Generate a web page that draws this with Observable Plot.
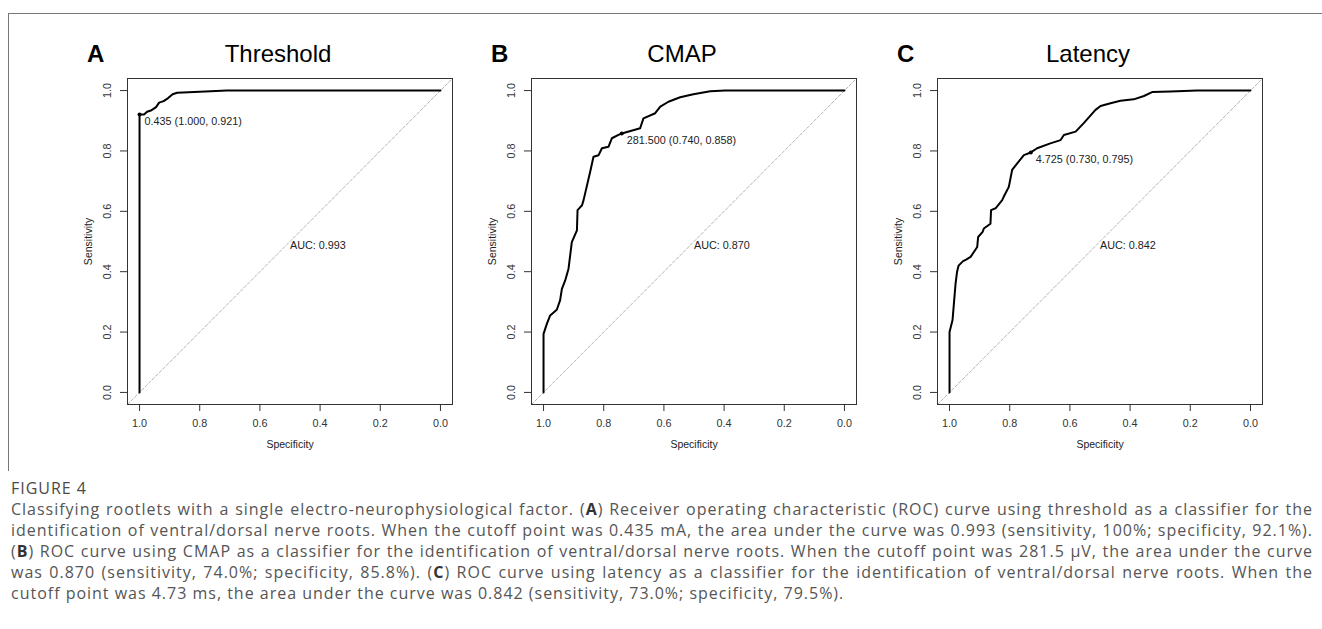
<!DOCTYPE html>
<html>
<head>
<meta charset="utf-8">
<script src="https://cdn.jsdelivr.net/npm/d3@7"></script>
<script src="https://cdn.jsdelivr.net/npm/@observablehq/plot@0.6"></script>
<style>
  html, body { margin: 0; padding: 0; background: #fff; }
  body { width: 1322px; height: 629px; overflow: hidden; position: relative; font-family: "Liberation Sans", Arial, sans-serif; }
  #box { position: absolute; left: 8px; top: 13px; width: 1320px; height: 457px; border-top: 1.5px solid #777; border-left: 1.5px solid #777; }
  .panel { position: absolute; top: 0; }
  #caption { position: absolute; left: 11px; top: 478px; width: 1302px; font-family: "Open Sans", "Noto Sans", sans-serif; font-size: 16px; color: #555; line-height: 21px; }
  #caption .fig { color: #4a4a4a; }
  #caption .j { text-align: justify; text-align-last: justify; white-space: nowrap; }
  #caption b { font-weight: 700; color: #333; }
  #probe { position: absolute; left: 0; top: -200px; white-space: nowrap; font-family: "Open Sans", "Noto Sans", sans-serif; font-size: 16px; visibility: hidden; }
</style>
</head>
<body>
<div id="box"></div>
<div id="panels"></div>
<div id="caption">
  <div class="fig">FIGURE 4</div>
  <div class="j" id="line1">Classifying rootlets with a single electro-neurophysiological factor. (<b>A</b>) Receiver operating characteristic (ROC) curve using threshold as a classifier for the</div>
  <div class="j">identification of ventral/dorsal nerve roots. When the cutoff point was 0.435 mA, the area under the curve was 0.993 (sensitivity, 100%; specificity, 92.1%).</div>
  <div class="j">(<b>B</b>) ROC curve using CMAP as a classifier for the identification of ventral/dorsal nerve roots. When the cutoff point was 281.5 μV, the area under the curve</div>
  <div class="j">was 0.870 (sensitivity, 74.0%; specificity, 85.8%). (<b>C</b>) ROC curve using latency as a classifier for the identification of ventral/dorsal nerve roots. When the</div>
  <div>cutoff point was 4.73 ms, the area under the curve was 0.842 (sensitivity, 73.0%; specificity, 79.5%).</div>
</div>
<span id="probe"></span>
<script>
// ---- Data: [specificity, sensitivity] pairs ----
const thresholdCurve = [
  [1, 0], [1, 0.921], [0.985, 0.921], [0.975, 0.93], [0.96, 0.935], [0.945, 0.945],
  [0.935, 0.96], [0.92, 0.965], [0.905, 0.975], [0.89, 0.988], [0.875, 0.993],
  [0.80, 0.996], [0.71, 1.0], [0, 1.0]
];
const cmapCurve = [
  [1, 0], [1, 0.194], [0.989, 0.227], [0.978, 0.255], [0.956, 0.274], [0.945, 0.305],
  [0.939, 0.343], [0.928, 0.371], [0.917, 0.41], [0.906, 0.498], [0.889, 0.537],
  [0.887, 0.604], [0.872, 0.62], [0.867, 0.637], [0.845, 0.731], [0.834, 0.781],
  [0.817, 0.786], [0.806, 0.809], [0.784, 0.814], [0.773, 0.842], [0.751, 0.853],
  [0.74, 0.858], [0.679, 0.875], [0.668, 0.908], [0.629, 0.925], [0.612, 0.947],
  [0.585, 0.963], [0.546, 0.978], [0.502, 0.988], [0.446, 0.998], [0.396, 1.0], [0, 1.0]
];
const latencyCurve = [
  [1, 0], [1, 0.2], [0.99, 0.24], [0.985, 0.3], [0.98, 0.36], [0.975, 0.4], [0.97, 0.42],
  [0.955, 0.435], [0.945, 0.44], [0.93, 0.449], [0.908, 0.482], [0.905, 0.515],
  [0.89, 0.532], [0.886, 0.543], [0.864, 0.559], [0.862, 0.604], [0.847, 0.61],
  [0.825, 0.637], [0.82, 0.648], [0.803, 0.681], [0.792, 0.737], [0.775, 0.759],
  [0.753, 0.786], [0.73, 0.795], [0.709, 0.809], [0.665, 0.825], [0.631, 0.836],
  [0.62, 0.853], [0.581, 0.864], [0.554, 0.892], [0.515, 0.936], [0.498, 0.949],
  [0.465, 0.958], [0.432, 0.966], [0.388, 0.971], [0.354, 0.982], [0.327, 0.995],
  [0.266, 0.997], [0.177, 1.0], [0, 1.0]
];
const panelTitles = ["Threshold", "CMAP", "Latency"];
const panelLetters = ["A", "B", "C"];
const thresholdPoints = [[1.000, 0.921], [0.740, 0.858], [0.730, 0.795]];
const thresholdLabels = ["0.435 (1.000, 0.921)", "281.500 (0.740, 0.858)", "4.725 (0.730, 0.795)"];
const aucLabels = ["AUC: 0.993", "AUC: 0.870", "AUC: 0.842"];
const aucPosition = [0.5, 0.5];
const chanceLine = [[1.04, -0.04], [-0.04, 1.04]];
const xTicks = [1.0, 0.8, 0.6, 0.4, 0.2, 0.0];
const yTicks = [0.0, 0.2, 0.4, 0.6, 0.8, 1.0];
const xLabel = "Specificity";
const yLabel = "Sensitivity";

const curves = [thresholdCurve, cmapCurve, latencyCurve];
const panelLefts = [56.5, 461, 866.5];
const fmt = d3.format(".1f");
const FONT = "Liberation Sans, Arial, sans-serif";

curves.forEach((curve, i) => {
  const svg = Plot.plot({
    width: 405,
    height: 464,
    marginLeft: 70,
    marginRight: 10,
    marginTop: 78,
    marginBottom: 60,
    x: { domain: [1.04, -0.04] },
    y: { domain: [-0.04, 1.04] },
    style: { fontFamily: FONT, background: "transparent", overflow: "visible", color: "#333" },
    marks: [
      Plot.line(chanceLine, { x: d => d[0], y: d => d[1], stroke: "#b5b5b5", strokeWidth: 1, strokeDasharray: "3,2" }),
      Plot.line(curve, { x: d => d[0], y: d => d[1], stroke: "#000", strokeWidth: 2, strokeLinejoin: "round" }),
      Plot.dot([thresholdPoints[i]], { x: d => d[0], y: d => d[1], r: 2, fill: "#000" }),
      Plot.text([thresholdPoints[i]], { x: d => d[0], y: d => d[1], text: () => thresholdLabels[i], textAnchor: "start", lineAnchor: "middle", dx: 5, dy: 7, fontSize: 10.8, fill: "#222" }),
      Plot.text([aucPosition], { x: d => d[0], y: d => d[1], text: () => aucLabels[i], textAnchor: "start", lineAnchor: "top", fontSize: 10.8, fill: "#222" }),
      Plot.frame({ stroke: "#333", strokeWidth: 1 }),
      Plot.axisX({ ticks: xTicks, tickSize: 7, tickPadding: 8, tickFormat: fmt, fontSize: 10.8, label: null, color: "#333" }),
      Plot.axisY({ ticks: yTicks, tickSize: 7, tickFormat: () => "", label: null, color: "#333" }),
      Plot.text(yTicks, { y: d => d, frameAnchor: "left", text: d => fmt(d), rotate: -90, dx: -20, fontSize: 10.8, fill: "#333", textAnchor: "middle", lineAnchor: "middle" }),
      Plot.text([xLabel], { frameAnchor: "bottom", dy: 40, fontSize: 10.5, fill: "#222", lineAnchor: "middle" }),
      Plot.text([yLabel], { frameAnchor: "left", rotate: -90, dx: -38.5, fontSize: 10.5, fill: "#222", textAnchor: "middle", lineAnchor: "middle" }),
      Plot.text([panelTitles[i]], { frameAnchor: "top", dx: -12, dy: -23.7, fontSize: 24, fill: "#000", textAnchor: "middle", lineAnchor: "middle" }),
      Plot.text([panelLetters[i]], { frameAnchor: "top-left", dx: -40.5, dy: -23.7, fontSize: 24, fontWeight: "bold", fill: "#000", textAnchor: "start", lineAnchor: "middle" })
    ]
  });
  const wrap = document.createElement("div");
  wrap.className = "panel";
  wrap.style.left = panelLefts[i] + "px";
  wrap.appendChild(svg);
  document.getElementById("panels").appendChild(wrap);
});

// Choose a letter-spacing so the first caption line's natural width is close to the justified width
const probe = document.getElementById("probe");
const line1 = document.getElementById("line1");
probe.innerHTML = line1.innerHTML;
const natural = probe.getBoundingClientRect().width;
const nChars = line1.textContent.length;
if (natural > 0) {
  const ls = Math.max(0, Math.min(1.2, (1288 - natural) / nChars));
  document.getElementById("caption").style.letterSpacing = ls.toFixed(3) + "px";
}
</script>
</body>
</html>
